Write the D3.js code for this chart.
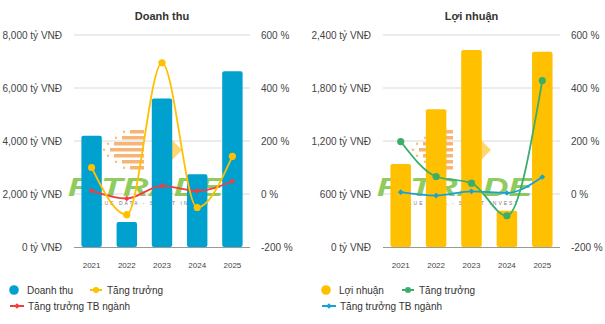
<!DOCTYPE html>
<html>
<head>
<meta charset="utf-8">
<script src="https://cdn.jsdelivr.net/npm/d3@7"></script>
<style>
  body { margin: 0; background: #fff; }
  svg { font-family: Arial, "Liberation Sans", sans-serif; }
</style>
</head>
<body>
<svg></svg>
<script>
const years = ["2021", "2022", "2023", "2024", "2025"];

const revenue = [4200, 940, 5600, 2750, 6630];
const revenueGrowth = [100, -78, 495, -51, 142];
const revenueIndustry = [12, -17, 31, 12, 48];

const profit = [940, 1560, 2230, 410, 2210];
const profitGrowth = [198, 66, 41, -82, 428];
const profitIndustry = [7, -6, 10, 4, 64];

const revTicks = [0, 2000, 4000, 6000, 8000];
const profitTicks = [0, 600, 1200, 1800, 2400];
const pctTicks = [-200, 0, 200, 400, 600];

const svg = d3.select("svg");
svg.attr("width", 605).attr("height", 324);

const fmt = d3.format(",");
const plotTop = 35, plotBottom = 247;

function watermark(g, x0) {
  const w = g.append("g").attr("transform", `translate(${x0},0)`).attr("opacity", 0.85);
  // orange bricks
  const rows = [130, 136, 142, 148, 154, 160, 166];
  rows.forEach((yy, i) => {
    const len = [14, 22, 30, 34, 30, 22, 14][i];
    w.append("rect").attr("x", 150 - len - 6).attr("y", yy).attr("width", len).attr("height", 3.5)
      .attr("fill", "#f4a04a").attr("opacity", 0.9);
    w.append("circle").attr("cx", 150 - len - 12).attr("cy", yy + 1.7).attr("r", 1.2).attr("fill", "#f7b26a");
  });
  w.append("path").attr("d", "M152,130 L162,130 L182,150 L162,170 L152,170 Z")
    .attr("fill", "#ffc73a").attr("opacity", 0.85);
  w.append("text").attr("x", 68).attr("y", 196)
    .attr("font-size", 25).attr("font-weight", "bold").attr("font-style", "italic")
    .attr("fill", "#7cc242").attr("textLength", 155).attr("lengthAdjust", "spacingAndGlyphs").text("F-TRADE");
  w.append("text").attr("x", 150).attr("y", 205).attr("text-anchor", "middle")
    .attr("font-size", 5).attr("fill", "#666").attr("letter-spacing", 2).text("VALUE DATA - SMART INVEST");
}

function drawChart(cfg) {
  const g = svg.append("g");
  const x = d3.scaleBand().domain(years).range([cfg.x0, cfg.x1]).paddingInner(0.42).paddingOuter(0.21);
  const y = d3.scaleLinear().domain([0, cfg.ticks[cfg.ticks.length - 1]]).range([plotBottom, plotTop]);
  const y2 = d3.scaleLinear().domain([-200, 600]).range([plotBottom, plotTop]);

  g.append("text").attr("x", (cfg.x0 + cfg.x1) / 2).attr("y", 20).attr("text-anchor", "middle")
    .attr("font-size", 11).attr("font-weight", "bold").attr("fill", "#333").text(cfg.title);

  // grid
  g.selectAll(".grid").data(cfg.ticks.slice(1)).enter().append("line")
    .attr("x1", cfg.x0).attr("x2", cfg.x1).attr("y1", d => y(d)).attr("y2", d => y(d))
    .attr("stroke", "#d9d9d9").attr("stroke-width", 1);

  // left axis labels
  g.selectAll(".yl").data(cfg.ticks).enter().append("text")
    .attr("x", cfg.x0 - 12).attr("y", d => y(d) + 3.5).attr("text-anchor", "end")
    .attr("font-size", 10).attr("fill", "#444").text(d => `${fmt(d)} tỷ VNĐ`);

  // right axis labels
  g.selectAll(".yr").data(pctTicks).enter().append("text")
    .attr("x", cfg.x1 + 11).attr("y", d => y2(d) + 3.5).attr("text-anchor", "start")
    .attr("font-size", 10).attr("fill", "#444").text(d => `${d} %`);

  watermark(g, cfg.x0 - 74);

  // bars
  g.selectAll(".bar").data(cfg.bars).enter().append("rect")
    .attr("x", (d, i) => x(years[i])).attr("width", x.bandwidth())
    .attr("y", d => y(d)).attr("height", d => plotBottom - y(d))
    .attr("rx", 2).attr("fill", cfg.barColor);

  // axis line
  g.append("line").attr("x1", cfg.x0).attr("x2", cfg.x1).attr("y1", plotBottom + 0.5).attr("y2", plotBottom + 0.5)
    .attr("stroke", "#999").attr("stroke-width", 1);

  g.selectAll(".xl").data(years).enter().append("text")
    .attr("x", d => x(d) + x.bandwidth() / 2).attr("y", 268).attr("text-anchor", "middle")
    .attr("font-size", 8).attr("fill", "#444").text(d => d);

  const line = d3.line().x((d, i) => x(years[i]) + x.bandwidth() / 2).y(d => y2(d)).curve(d3.curveMonotoneX);

  g.append("path").datum(cfg.industry).attr("d", line).attr("fill", "none")
    .attr("stroke", cfg.indColor).attr("stroke-width", 1.8);
  g.append("path").datum(cfg.growth).attr("d", line).attr("fill", "none")
    .attr("stroke", cfg.growthColor).attr("stroke-width", 1.8);

  g.selectAll(".dm").data(cfg.industry).enter().append("path")
    .attr("d", d3.symbol(d3.symbolDiamond2, 20))
    .attr("transform", (d, i) => `translate(${x(years[i]) + x.bandwidth() / 2},${y2(d)})`)
    .attr("fill", cfg.indColor);
  g.selectAll(".cm").data(cfg.growth).enter().append("circle")
    .attr("cx", (d, i) => x(years[i]) + x.bandwidth() / 2).attr("cy", d => y2(d))
    .attr("r", 3.6).attr("fill", cfg.growthColor);

  // legend
  const lg = g.append("g").attr("font-size", 10).attr("fill", "#333");
  const lx = cfg.legendX;
  lg.append("circle").attr("cx", lx + 4).attr("cy", 290).attr("r", 4.8).attr("fill", cfg.barColor);
  lg.append("text").attr("x", lx + 17).attr("y", 293.5).attr("fill", "#333").text(cfg.title);
  const gx = lx + 80;
  lg.append("line").attr("x1", gx).attr("x2", gx + 12).attr("y1", 290).attr("y2", 290)
    .attr("stroke", cfg.growthColor).attr("stroke-width", 2);
  lg.append("circle").attr("cx", gx + 6).attr("cy", 290).attr("r", 3).attr("fill", cfg.growthColor);
  lg.append("text").attr("x", gx + 17).attr("y", 293.5).attr("fill", "#333").text("Tăng trưởng");
  lg.append("line").attr("x1", lx).attr("x2", lx + 14).attr("y1", 306).attr("y2", 306)
    .attr("stroke", cfg.indColor).attr("stroke-width", 2);
  lg.append("path").attr("d", d3.symbol(d3.symbolDiamond2, 20))
    .attr("transform", `translate(${lx + 7},306)`).attr("fill", cfg.indColor);
  lg.append("text").attr("x", lx + 18).attr("y", 309.5).attr("fill", "#333").text("Tăng trưởng TB ngành");
}

drawChart({
  title: "Doanh thu", x0: 74, x1: 250, ticks: revTicks,
  bars: revenue, growth: revenueGrowth, industry: revenueIndustry,
  barColor: "#00a1cf", growthColor: "#ffc000", indColor: "#f53b3b", legendX: 10
});

drawChart({
  title: "Lợi nhuận", x0: 383, x1: 560, ticks: profitTicks,
  bars: profit, growth: profitGrowth, industry: profitIndustry,
  barColor: "#ffc000", growthColor: "#3aae6a", indColor: "#16a2d7", legendX: 322
});
</script>
</body>
</html>
